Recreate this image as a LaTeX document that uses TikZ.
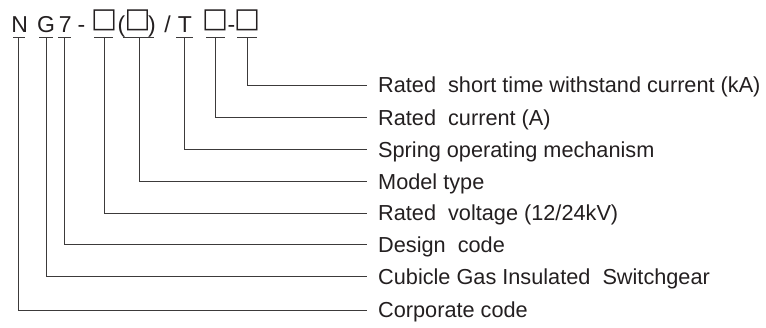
\documentclass[tikz,border=0pt]{standalone}
\usepackage{fontspec}
\setmainfont{Liberation Sans}
\newfontfamily\symfont{DejaVu Sans}
\definecolor{ink}{HTML}{231F20}
\definecolor{wire}{HTML}{3C3A3A}
\begin{document}
\begin{tikzpicture}[x=1pt,y=-1pt,
  hchar/.style={anchor=base,inner sep=0pt,text=ink,font=\fontsize{23}{26}\selectfont},
  hbox/.style={anchor=base,inner sep=0pt,text=ink,font=\symfont\fontsize{27.5}{30}\selectfont},
  label/.style={anchor=west,inner xsep=11pt,inner ysep=0pt,text height=15.5pt,text depth=0pt,text=ink,font=\fontsize{21.7}{26}\selectfont},
  tick/.style={draw=wire,line width=1pt},
  wirestyle/.style={draw=wire,line width=1pt}]
\useasboundingbox (0,0) rectangle (766,327);
% header characters
\node[hchar] (cN) at (19.7,32) {N};
\node[hchar] (cG) at (46,32) {G};
\node[hchar] (c7) at (65.3,32) {7};
\node[hchar] (cd1) at (81.5,32) {-};
\node[hbox] (cb1) at (104,27.3) {□};
\node[hchar] (cp1) at (121.5,32) {(};
\node[hbox] (cb2) at (137.5,27.3) {□};
\node[hchar] (cp2) at (152,32) {)};
\node[hchar] (cs) at (167.5,32) {/};
\node[hchar] (cT) at (185,32) {T};
\node[hbox] (cb3) at (215,27.3) {□};
\node[hchar] (cd2) at (231.5,32) {-};
\node[hbox] (cb4) at (247,27.3) {□};
% tick coordinates
\coordinate (t1) at (18.3,37);
\coordinate (t2) at (46,37);
\coordinate (t3) at (64.7,37);
\coordinate (t4) at (104,37);
\coordinate (t5) at (139,37);
\coordinate (t6) at (184.3,37);
\coordinate (t7) at (215.7,37);
\coordinate (t8) at (247.3,37);
\draw[tick] (13,37) -- (25,37);
\draw[tick] (39,37) -- (53,37);
\draw[tick] (58,37) -- (71,37);
\draw[tick] (94,37) -- (113,37);
\draw[tick] (123,37) -- (154,37);
\draw[tick] (176,37) -- (193,37);
\draw[tick] (206,37) -- (225,37);
\draw[tick] (237,37) -- (257,37);
% labels
\node[label] (l8) at (367,85) {Rated\ \ short time withstand current (kA)};
\node[label] (l7) at (367,117.3) {Rated\ \ current (A)};
\node[label] (l6) at (367,149.4) {Spring operating mechanism};
\node[label] (l5) at (367,181.5) {Model type};
\node[label] (l4) at (367,213) {Rated\ \ voltage (12/24kV)};
\node[label] (l3) at (367,244.5) {Design\ \ code};
\node[label] (l2) at (367,276.5) {Cubicle Gas Insulated\ \ Switchgear};
\node[label] (l1) at (367,310) {Corporate code};
% connectors
\draw[wirestyle] (t1) |- (l1.west);
\draw[wirestyle] (t2) |- (l2.west);
\draw[wirestyle] (t3) |- (l3.west);
\draw[wirestyle] (t4) |- (l4.west);
\draw[wirestyle] (t5) |- (l5.west);
\draw[wirestyle] (t6) |- (l6.west);
\draw[wirestyle] (t7) |- (l7.west);
\draw[wirestyle] (t8) |- (l8.west);
\end{tikzpicture}
\end{document}
